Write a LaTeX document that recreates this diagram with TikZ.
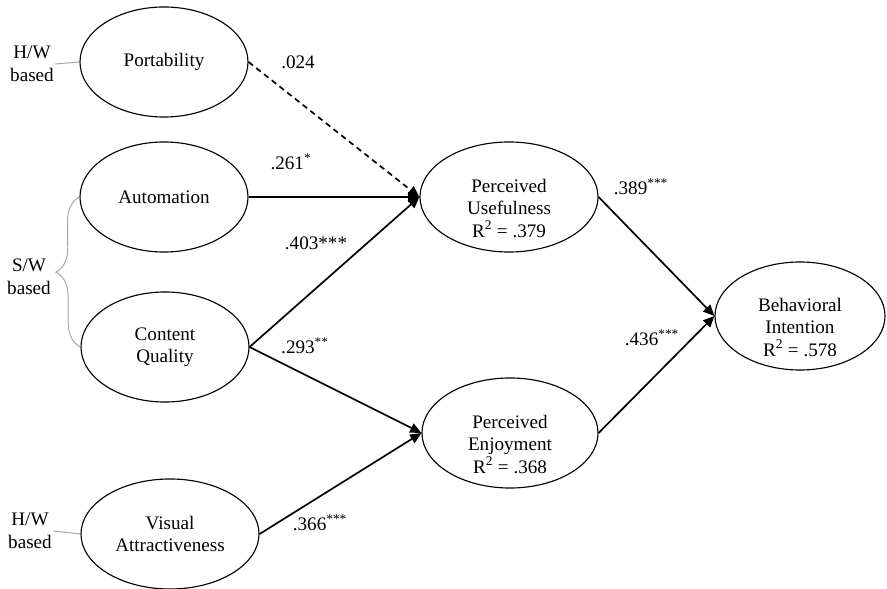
\documentclass[tikz,border=0pt]{standalone}
\usepackage{fontspec}
\setmainfont{Liberation Serif}
\usetikzlibrary{arrows.meta, shapes.geometric, decorations.pathreplacing}

\begin{document}
\begin{tikzpicture}[x=0.025cm, y=-0.025cm,
  every node/.style={font=\fontsize{13.6}{16}\selectfont},
  construct/.style={draw, ellipse, line width=0.8pt, align=center, inner sep=0pt,
                    minimum width=4.2cm, minimum height=2.75cm},
  inner/.style={label={[align=center, yshift=-0.28cm]center:#1}},
  link/.style={line width=1.2pt, -{Triangle[length=8pt, width=7pt]}},
  tie/.style={draw=black!35, line width=0.7pt},
  note/.style={align=center, inner sep=1pt},
  coef/.style={inner sep=0pt}]

\useasboundingbox (0,0) rectangle (887,589);

% constructs
\node[construct] (port) at (164,62) {Portability};
\node[construct] (auto) at (164,197) {Automation};
\node[construct] (cq) at (165,347) {Content\\Quality};
\node[construct, minimum width=4.45cm] (va) at (170,534) {Visual\\Attractiveness};
\node[construct, minimum width=4.45cm,
      inner={Perceived\\Usefulness\\R\textsuperscript{2} = .379}] (pu) at (509,197) {};
\node[construct, minimum width=4.4cm,
      inner={Perceived\\Enjoyment\\R\textsuperscript{2} = .368}] (pe) at (510,433) {};
\node[construct, minimum width=4.25cm, minimum height=2.7cm,
      inner={Behavioral\\Intention\\R\textsuperscript{2} = .578}] (bi) at (800,316) {};

% hardware / software groups
\node[note] (hwtop) at (32,64) {H/W\\based};
\draw[tie] (hwtop.east) -- (port.west);
\node[note] (hwbot) at (30,531) {H/W\\based};
\draw[tie] (hwbot.east) -- (va.west);
\draw[tie, decorate, decoration={brace, amplitude=0.6cm}] (cq.west) -- (auto.west);
\node[note] (sw) at (29,277) {S/W\\based};

% paths
\draw[link, dash pattern=on 4pt off 3pt] (port.east) -- (pu.west);
\draw[link] (auto.east) -- (pu.west);
\draw[link] (cq.east) -- (pu.west);
\draw[link] (cq.east) -- (pe.west);
\draw[link] (va.east) -- (pe.west);
\draw[link] (pu.east) -- (bi.west);
\draw[link] (pe.east) -- (bi.west);

% coefficients
\node[coef] (cport) at (298,62) {.024};
\node[coef] (cauto) at (291,162) {.261\textsuperscript{*}};
\node[coef] (ccqpu) at (316,243) {.403***};
\node[coef] (ccqpe) at (305,346) {.293\textsuperscript{**}};
\node[coef] (cva) at (320,523) {.366\textsuperscript{***}};
\node[coef] (cpu) at (641,187) {.389\textsuperscript{***}};
\node[coef] (cpe) at (652,338) {.436\textsuperscript{***}};

\end{tikzpicture}
\end{document}
